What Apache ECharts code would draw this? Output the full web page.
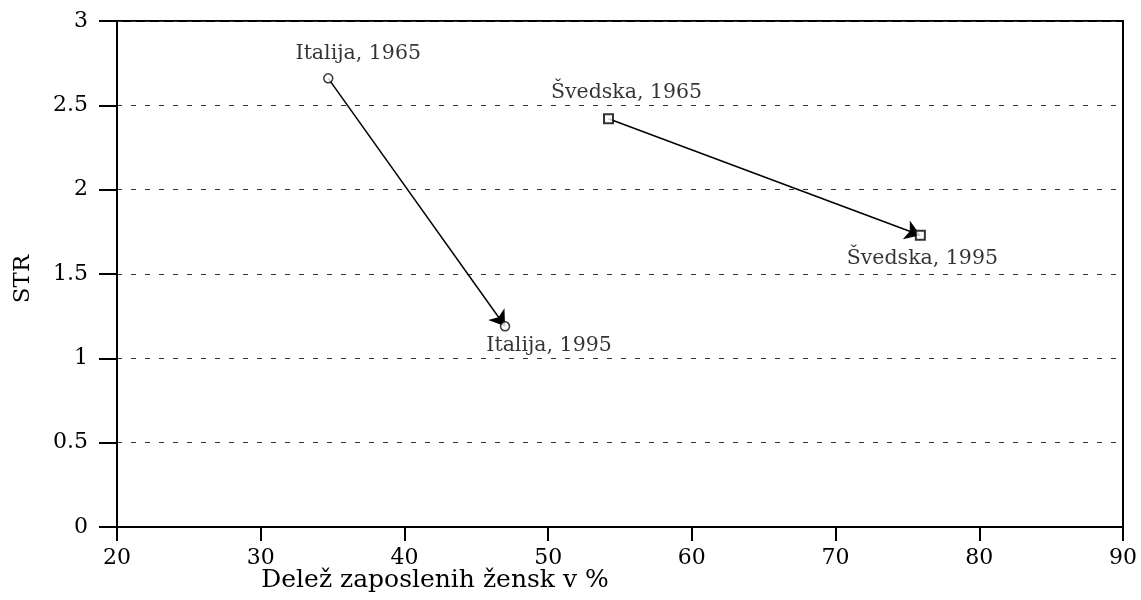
<!DOCTYPE html>
<html>
<head>
<meta charset="utf-8">
<script src="https://cdn.jsdelivr.net/npm/echarts@6/dist/echarts.min.js"></script>
<style>html,body{margin:0;padding:0;background:#fff}#c{width:1141px;height:600px}</style>
</head>
<body>
<div id="c"></div>
<script>
const countries = ['Italija', 'Švedska'];
const years = [1965, 1995];
const italyX = [34.7, 47.0];
const italyY = [2.66, 1.19];
const swedenX = [54.2, 75.9];
const swedenY = [2.42, 1.73];
const xAxisTitle = 'Delež zaposlenih žensk v %';
const yAxisTitle = 'STR';
const xMin = 20, xMax = 90, xStep = 10;
const yMin = 0, yMax = 3, yStep = 0.5;

const FONT = 'DejaVu Serif';
const labelOffsets = {
  'Italija': [[30, -25], [44, 19]],
  'Švedska': [[18, -26], [2, 23]]
};

function points(country, xs, ys) {
  return xs.map((x, i) => ({
    value: [x, ys[i]],
    name: country + ', ' + years[i],
    label: {
      show: true,
      position: 'inside',
      offset: labelOffsets[country][i],
      formatter: '{b}',
      fontFamily: FONT,
      fontSize: 20.5,
      color: '#000',
      align: 'center',
      verticalAlign: 'middle'
    }
  }));
}

const chart = echarts.init(document.getElementById('c'), null, {renderer: 'canvas'});
chart.setOption({
  animation: false,
  backgroundColor: '#fff',
  grid: {
    left: 117, right: 18, top: 21, bottom: 73,
    show: true, borderColor: '#000', borderWidth: 2, backgroundColor: 'transparent'
  },
  xAxis: {
    type: 'value', min: xMin, max: xMax, interval: xStep,
    axisLine: {show: true, onZero: false, lineStyle: {color: '#000', width: 2}},
    axisTick: {show: true, length: 14, lineStyle: {color: '#000', width: 2}},
    axisLabel: {fontFamily: FONT, fontSize: 22, color: '#000', margin: 20},
    splitLine: {show: false}
  },
  yAxis: {
    type: 'value', min: yMin, max: yMax, interval: yStep,
    axisLine: {show: true, onZero: false, lineStyle: {color: '#000', width: 2}},
    axisTick: {show: true, length: 18, lineStyle: {color: '#000', width: 2}},
    axisLabel: {fontFamily: FONT, fontSize: 22, color: '#000', margin: 29},
    splitLine: {show: true, lineStyle: {color: '#333', width: 1, type: [5, 9]}}
  },
  graphic: [
    {type: 'text', x: 435, y: 580, style: {text: xAxisTitle, font: '25px "DejaVu Serif"', fill: '#000', align: 'center', verticalAlign: 'middle'}},
    {type: 'text', x: 23, y: 279, rotation: Math.PI / 2, style: {text: yAxisTitle, font: '23px "DejaVu Serif"', fill: '#000', align: 'center', verticalAlign: 'middle'}}
  ],
  series: [
    {
      type: 'lines', coordinateSystem: 'cartesian2d', z: 3,
      symbol: ['none', 'arrow'], symbolSize: [8, 15], symbolOffset: [0, 12],
      lineStyle: {color: '#000', width: 1.5, opacity: 1},
      data: [
        {coords: [[italyX[0], italyY[0]], [italyX[1], italyY[1]]]},
        {coords: [[swedenX[0], swedenY[0]], [swedenX[1], swedenY[1]]]}
      ]
    },
    {
      type: 'scatter', name: countries[0], z: 4,
      symbol: 'circle', symbolSize: 9,
      itemStyle: {color: '#fff', borderColor: '#000', borderWidth: 1.5},
      data: points(countries[0], italyX, italyY)
    },
    {
      type: 'scatter', name: countries[1], z: 4,
      symbol: 'rect', symbolSize: 9,
      itemStyle: {color: '#fff', borderColor: '#000', borderWidth: 2},
      data: points(countries[1], swedenX, swedenY)
    }
  ]
});
</script>
</body>
</html>
